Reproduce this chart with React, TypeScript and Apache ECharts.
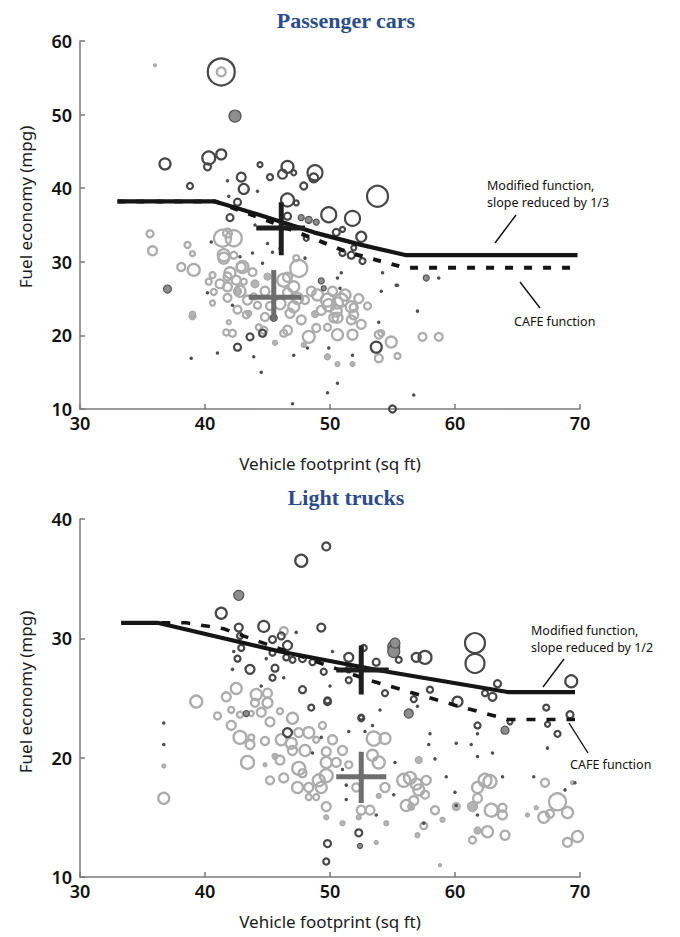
import React, { useEffect, useRef } from "react";
import * as echarts from "echarts";

// ---------- Passenger cars (top) ----------
const carsLightRings = [
  [41.3, 55.8, 10], [35.6, 33.8, 8], [35.8, 31.5, 10], [38.6, 32.3, 7], [39.0, 31.1, 6], [38.1, 29.3, 9], [39.1, 28.9, 13],
  [41.4, 33.2, 18], [42.3, 33.2, 17], [41.8, 33.9, 10], [41.5, 30.5, 12], [42.3, 30.9, 8], [40.6, 28.2, 7], [40.3, 27.3, 7],
  [41.8, 28.0, 9], [41.8, 26.6, 10], [41.8, 25.1, 9], [42.5, 27.5, 10], [42.9, 29.3, 10], [43.1, 27.3, 7], [40.7, 25.9, 7],
  [40.6, 24.4, 6], [41.9, 21.8, 5], [42.2, 20.3, 8], [41.7, 20.4, 7], [44.2, 24.1, 8], [43.9, 25.3, 7], [44.7, 20.7, 8],
  [44.3, 21.1, 7], [46.3, 27.5, 14], [47.1, 26.6, 12], [46.6, 25.8, 10], [47.5, 29.1, 18], [47.3, 30.5, 7], [46.6, 27.9, 10],
  [47.1, 23.9, 12], [47.7, 22.1, 10], [46.6, 20.7, 10], [46.3, 20.3, 8], [48.3, 19.8, 13], [49.3, 23.4, 10], [49.9, 24.1, 13],
  [50.9, 24.8, 14], [50.3, 22.4, 10], [49.8, 21.1, 8], [49.8, 24.8, 14], [50.6, 24.4, 12], [51.7, 23.9, 12], [51.7, 22.1, 10],
  [50.6, 22.4, 11], [50.6, 20.1, 12], [51.8, 20.1, 11], [51.9, 22.8, 10], [51.9, 23.8, 9], [53.9, 20.1, 9], [54.9, 19.1, 12],
  [53.9, 16.9, 9], [57.4, 19.8, 9], [58.7, 19.8, 9], [55.4, 17.2, 7], [54.1, 20.3, 7], [43.0, 29.3, 13], [41.5, 30.9, 13],
  [44.8, 26.0, 10], [45.2, 24.0, 9], [48.5, 26.0, 10], [48.0, 24.8, 9], [52.5, 21.5, 10], [53.0, 24.0, 8], [43.3, 22.8, 8],
  [48.9, 21.0, 9], [42.0, 28.5, 12], [42.8, 26.0, 12], [43.4, 24.8, 10], [41.2, 27.0, 10], [42.6, 23.5, 9], [43.8, 28.6, 9],
  [49.0, 25.5, 12], [50.2, 26.0, 10], [51.2, 25.5, 12], [52.3, 25.0, 10], [50.5, 23.3, 12], [46.0, 24.3, 12], [47.4, 25.0, 12],
  [46.8, 23.0, 10], [44.8, 22.5, 9],
];
const carsLightFill = [
  [39.0, 22.6, 7], [39.0, 22.9, 6], [49.8, 17.1, 6], [50.6, 16.1, 5], [51.8, 16.1, 5], [45.6, 19.0, 5], [43.5, 23.0, 6],
  [47.9, 18.7, 5], [44.0, 27.0, 8], [42.6, 26.0, 8], [45.0, 28.0, 7], [48.8, 22.9, 7], [36.0, 56.7, 3],
];
const carsDarkRings = [
  [41.3, 55.8, 28], [36.8, 43.3, 12], [40.3, 44.1, 14], [41.3, 44.6, 11], [40.2, 42.9, 8], [38.8, 40.3, 7], [42.9, 41.5, 10],
  [43.1, 39.9, 11], [42.6, 38.1, 8], [44.4, 43.2, 6], [45.2, 41.5, 7], [46.2, 41.9, 10], [46.6, 42.9, 13], [47.1, 42.1, 6],
  [48.8, 42.1, 16], [48.7, 41.4, 10], [47.9, 40.3, 8], [53.8, 38.9, 22], [46.6, 38.4, 14], [49.9, 36.4, 16], [51.8, 35.9, 16],
  [42.0, 36.0, 8], [46.6, 36.2, 8], [47.3, 38.0, 6], [50.5, 34.0, 8], [51.0, 34.4, 6], [52.5, 33.4, 11], [51.0, 31.2, 7],
  [51.7, 30.9, 8], [52.6, 30.1, 7], [51.9, 31.9, 6], [48.1, 33.2, 6], [53.7, 18.4, 12], [55.0, 10.0, 8], [43.6, 19.8, 8],
  [44.6, 20.3, 8], [42.6, 18.4, 8],
];
const carsMedFill = [
  [42.4, 49.8, 12], [47.7, 36.0, 6], [48.3, 35.7, 7], [48.9, 35.4, 6], [37.0, 26.3, 8], [45.5, 22.4, 7], [57.7, 27.8, 6],
  [49.3, 27.4, 6], [49.5, 26.4, 5],
];
const carsDarkDots = [
  [41.8, 41.0], [44.2, 39.6], [41.9, 38.9], [43.8, 31.2], [42.8, 30.7], [44.6, 29.8], [45.4, 31.3], [40.5, 32.7], [40.2, 25.8],
  [42.2, 24.1], [50.6, 27.8], [50.8, 26.4], [54.1, 26.0], [55.3, 26.8], [43.9, 17.1], [49.9, 18.3], [38.9, 16.9], [41.0, 17.6],
  [44.5, 15.0], [47.0, 10.7], [49.8, 12.2], [50.6, 13.5], [47.1, 17.3], [48.2, 18.3], [51.8, 17.3], [53.9, 21.8], [56.7, 11.9],
  [54.2, 28.5], [50.9, 28.5], [58.7, 27.8], [55.4, 26.8], [57.0, 23.3], [45.0, 32.5], [46.0, 31.8], [48.0, 30.5], [44.0, 35.0],
];
const carsModified = [[33, 38.2], [40.8, 38.2], [44.5, 36.3], [48.7, 34.0], [52.5, 32.3], [56.1, 30.9], [69.8, 30.9]];
const carsCafe = [[33, 38.2], [40.8, 38.2], [45, 35.6], [48, 33.6], [51.4, 31.3], [56, 29.2], [69.8, 29.2]];
const carsDarkCrossH = [[44.1, 34.6], [48.0, 34.6]];
const carsDarkCrossV = [[46.1, 38.1], [46.1, 30.9]];
const carsGrayCrossH = [[43.5, 25.2], [47.7, 25.2]];
const carsGrayCrossV = [[45.5, 28.9], [45.5, 22.1]];

// ---------- Light trucks (bottom) ----------
const trucksDarkRings = [
  [47.7, 36.5, 13], [49.7, 37.7, 9], [41.3, 32.1, 12], [44.7, 31.0, 12], [49.3, 30.9, 9], [42.7, 30.9, 9], [42.8, 30.2, 7],
  [45.4, 29.9, 8], [46.1, 30.2, 8], [46.6, 29.4, 10], [42.9, 29.2, 7], [42.6, 28.3, 7], [45.4, 28.8, 7], [46.5, 28.4, 7],
  [47.0, 28.2, 7], [47.8, 28.3, 8], [43.6, 27.4, 10], [45.6, 27.5, 8], [45.4, 26.7, 7], [48.6, 28.0, 7], [49.5, 27.2, 7],
  [51.5, 28.4, 10], [51.5, 27.4, 7], [51.5, 26.5, 7], [52.7, 29.2, 7], [53.7, 28.0, 8], [55.5, 28.2, 7], [56.9, 28.4, 10],
  [47.8, 25.7, 8], [54.4, 25.4, 7], [48.5, 24.2, 7], [49.8, 24.8, 7], [52.5, 23.4, 6], [56.7, 24.9, 7], [58.0, 25.7, 7],
  [57.6, 28.4, 14], [61.6, 29.6, 21], [61.6, 27.9, 20], [60.2, 24.7, 11], [62.4, 25.4, 7], [63.0, 25.1, 9], [63.4, 26.2, 8],
  [61.8, 22.7, 7], [64.4, 23.0, 6], [67.3, 24.2, 7], [67.4, 22.8, 6], [68.2, 22.0, 7], [69.2, 23.6, 8], [69.3, 26.4, 13],
  [46.6, 22.1, 10], [49.8, 12.8, 8], [49.7, 11.3, 7], [52.3, 13.7, 8], [52.5, 23.3, 7], [49.8, 24.7, 8],
];
const trucksMedFill = [
  [42.7, 33.6, 10], [55.1, 29.3, 12], [55.1, 28.9, 12], [55.2, 29.6, 10], [56.3, 23.7, 9], [64.0, 22.3, 8], [43.3, 23.7, 6],
  [52.4, 12.6, 5],
];
const trucksLightRings = [
  [46.3, 30.6, 9], [39.3, 24.7, 13], [36.7, 16.6, 12], [41.7, 25.1, 10], [42.5, 25.8, 12], [44.1, 25.3, 12], [45.0, 24.6, 11],
  [45.0, 25.4, 10], [42.1, 24.0, 7], [42.8, 23.6, 7], [43.7, 23.7, 6], [42.1, 22.7, 10], [42.8, 21.7, 14], [43.7, 21.7, 7],
  [43.6, 21.1, 10], [43.4, 19.6, 14], [44.8, 21.4, 9], [45.2, 23.0, 10], [46.0, 23.9, 7], [46.1, 21.5, 12], [46.9, 21.2, 12],
  [47.0, 20.6, 10], [47.5, 22.1, 10], [48.3, 22.1, 12], [48.9, 21.5, 7], [49.4, 22.7, 8], [47.5, 19.1, 14], [46.3, 18.3, 10],
  [45.2, 18.1, 9], [47.4, 17.5, 12], [48.3, 16.7, 7], [48.9, 16.7, 7], [48.3, 17.5, 10], [49.1, 18.1, 13], [49.7, 18.5, 14],
  [49.3, 17.5, 12], [49.7, 19.6, 12], [49.7, 20.5, 10], [50.5, 19.6, 10], [51.0, 20.6, 10], [51.5, 19.4, 8], [49.7, 15.9, 10],
  [52.1, 17.5, 9], [52.5, 15.6, 10], [53.2, 15.6, 10], [53.5, 21.6, 15], [54.4, 21.6, 12], [53.9, 19.6, 13], [53.4, 20.2, 12],
  [54.4, 17.5, 10], [55.9, 18.1, 14], [56.4, 18.3, 13], [56.1, 16.0, 12], [56.7, 16.4, 10], [56.9, 17.8, 12], [57.1, 17.3, 12],
  [57.7, 18.1, 10], [57.6, 16.9, 9], [58.4, 15.6, 9], [62.4, 18.1, 14], [62.8, 18.0, 14], [61.8, 17.5, 12], [61.8, 16.6, 10],
  [62.9, 15.6, 14], [63.8, 15.2, 10], [63.8, 15.8, 9], [64.0, 13.5, 10], [62.6, 13.8, 12], [61.4, 13.1, 8], [67.2, 17.9, 9],
  [68.2, 16.3, 18], [67.1, 15.0, 12], [67.6, 15.3, 9], [69.0, 15.4, 12], [69.0, 12.9, 10], [69.8, 13.4, 12], [57.5, 14.3, 8],
  [44.5, 23.8, 10], [47.0, 23.3, 12], [48.0, 20.6, 12], [46.0, 19.8, 10], [50.2, 21.5, 10], [47.8, 18.7, 9], [44.0, 24.6, 9],
  [41.0, 23.5, 8],
];
const trucksLightFill = [
  [36.7, 19.3, 4], [45.6, 20.1, 6], [44.8, 19.4, 4], [49.7, 15.0, 5], [51.0, 14.5, 5], [52.3, 15.0, 5], [53.7, 12.9, 4],
  [54.5, 14.5, 5], [53.9, 16.8, 5], [57.1, 19.8, 7], [56.5, 15.9, 7], [60.1, 15.9, 8], [61.4, 15.9, 10], [59.0, 14.8, 5],
  [58.8, 11.0, 3], [61.8, 13.9, 7], [69.4, 17.9, 4], [66.5, 15.8, 4], [65.8, 15.2, 4], [57.0, 13.5, 5],
];
const trucksDarkDots = [
  [36.7, 22.9], [36.7, 21.1], [51.5, 22.2], [52.8, 22.2], [53.4, 22.7], [51.3, 16.5], [53.7, 15.2], [51.3, 17.7], [55.1, 16.9],
  [55.2, 19.6], [49.3, 21.7], [48.6, 20.4], [47.3, 30.5], [44.9, 28.3], [42.2, 27.4], [50.2, 28.9], [46.3, 26.7], [42.3, 28.9],
  [44.5, 26.0], [61.8, 22.0], [60.1, 21.2], [61.3, 21.1], [61.8, 20.1], [63.0, 20.4], [67.4, 20.8], [58.4, 19.9], [57.9, 21.1],
  [59.3, 18.4], [60.0, 17.1], [60.1, 16.0], [57.5, 14.5], [61.8, 15.2], [63.8, 18.4], [68.8, 17.3], [69.6, 17.9], [66.3, 18.4],
  [58.0, 22.0], [57.0, 24.3], [50.0, 26.0], [54.0, 24.0], [51.0, 19.0],
];
const trucksModified = [[33.3, 31.3], [36.2, 31.3], [46, 28.9], [54, 27.3], [64.2, 25.5], [69.6, 25.5]];
const trucksCafe = [[33.3, 31.3], [38.5, 31.3], [41.5, 30.8], [44.4, 29.7], [53.1, 26.5], [60, 24.4], [64.2, 23.2], [69.6, 23.2]];
const trucksDarkCrossH = [[50.5, 27.35], [54.7, 27.35]];
const trucksDarkCrossV = [[52.5, 29.4], [52.5, 25.3]];
const trucksGrayCrossH = [[50.5, 18.4], [54.5, 18.4]];
const trucksGrayCrossV = [[52.5, 20.5], [52.5, 16.2]];

const X_MIN = 30, X_MAX = 70, X_STEP = 10;
const CARS_Y = [10, 60];
const TRUCKS_Y = [10, 40];

const TITLE_CARS = "Passenger cars";
const TITLE_TRUCKS = "Light trucks";
const X_NAME = "Vehicle footprint (sq ft)";
const Y_NAME = "Fuel economy (mpg)";

const SANS = "'Noto Sans', 'DejaVu Sans', sans-serif";

function rings(data: number[][], idx: number, color: string, width = 2.2, z = 2) {
  return {
    type: "scatter", xAxisIndex: idx, yAxisIndex: idx, data, symbol: "circle", silent: true, z,
    symbolSize: (v: number[]) => v[2] - 1,
    itemStyle: { color: "rgba(255,255,255,0)", borderColor: color, borderWidth: width, opacity: 1 },
  };
}
function fills(data: number[][], idx: number, color: string, border: string, z = 2) {
  return {
    type: "scatter", xAxisIndex: idx, yAxisIndex: idx, data, symbol: "circle", silent: true, z,
    symbolSize: (v: number[]) => v[2],
    itemStyle: { color, borderColor: border, borderWidth: 1.2, opacity: 1 },
  };
}
function dots(data: number[][], idx: number, color: string, size: number) {
  return {
    type: "scatter", xAxisIndex: idx, yAxisIndex: idx, data, symbol: "circle", symbolSize: size, silent: true, z: 2,
    itemStyle: { color, opacity: 1 },
  };
}
function line(data: number[][], idx: number, color: string, width: number, dash?: number[], z = 3) {
  return {
    type: "line", xAxisIndex: idx, yAxisIndex: idx, data, symbol: "none", silent: true, z,
    lineStyle: { color, width, type: dash ? dash : "solid", cap: "butt" },
  };
}

function axisX(idx: number) {
  return {
    type: "value", gridIndex: idx, min: X_MIN, max: X_MAX, interval: X_STEP,
    axisLine: { show: true, lineStyle: { color: "#7a7a7a", width: 1.5 } },
    axisTick: { show: true, inside: true, length: 5, lineStyle: { color: "#7a7a7a", width: 1.5 } },
    axisLabel: { color: "#111", fontSize: 18, fontWeight: 600, fontFamily: SANS, margin: 5 },
    splitLine: { show: false },
  };
}
function axisY(idx: number, range: number[]) {
  return {
    type: "value", gridIndex: idx, min: range[0], max: range[1], interval: 10,
    axisLine: { show: true, lineStyle: { color: "#7a7a7a", width: 1.5 } },
    axisTick: { show: true, inside: true, length: 5, lineStyle: { color: "#7a7a7a", width: 1.5 } },
    axisLabel: { color: "#111", fontSize: 18, fontWeight: 600, fontFamily: SANS, margin: 8 },
    splitLine: { show: false },
  };
}

function txt(text: string, x: number, y: number, size: number, opts: any = {}) {
  return {
    type: "text", x, y, rotation: opts.rotation || 0, silent: true,
    style: {
      text, fill: opts.fill || "#111", font: `${opts.weight || "normal"} ${size}px ${opts.family || SANS}`,
      textAlign: opts.align || "left", textVerticalAlign: "middle",
    },
  };
}
function seg(x1: number, y1: number, x2: number, y2: number) {
  return { type: "line", silent: true, shape: { x1, y1, x2, y2 }, style: { stroke: "#111", lineWidth: 1.4 } };
}

export default function App() {
  const ref = useRef<HTMLDivElement>(null);
  useEffect(() => {
    if (!ref.current) return;
    const chart = echarts.init(ref.current, null, { renderer: "svg" });
    const serif = "'Liberation Serif', 'Times New Roman', serif";
    chart.setOption({
      animation: false,
      backgroundColor: "#ffffff",
      grid: [
        { left: 80, top: 41, width: 500, height: 368 },
        { left: 80, top: 519, width: 500, height: 358 },
      ],
      xAxis: [axisX(0), axisX(1)],
      yAxis: [axisY(0, CARS_Y), axisY(1, TRUCKS_Y)],
      series: [
        fills(carsLightFill, 0, "#b4b4b4", "#a8a8a8"),
        rings(carsLightRings, 0, "#acacac", 2.3),
        dots(carsDarkDots, 0, "#505050", 3.5),
        fills(carsMedFill, 0, "#8e8e8e", "#555555"),
        rings(carsDarkRings, 0, "#474747", 2.2),
        line(carsCafe, 0, "#151515", 4, [8, 11]),
        line(carsModified, 0, "#151515", 4.2),
        line(carsGrayCrossH, 0, "#6e6e6e", 5, undefined, 4),
        line(carsGrayCrossV, 0, "#6e6e6e", 5, undefined, 4),
        line(carsDarkCrossH, 0, "#1e1e1e", 5, undefined, 5),
        line(carsDarkCrossV, 0, "#1e1e1e", 5, undefined, 5),

        fills(trucksLightFill, 1, "#b4b4b4", "#a8a8a8"),
        rings(trucksLightRings, 1, "#acacac", 2.3),
        dots(trucksDarkDots, 1, "#505050", 3.5),
        fills(trucksMedFill, 1, "#8e8e8e", "#555555"),
        rings(trucksDarkRings, 1, "#474747", 2.2),
        line(trucksCafe, 1, "#151515", 3.6, [9, 11]),
        line(trucksModified, 1, "#151515", 4.2),
        line(trucksGrayCrossH, 1, "#6e6e6e", 5, undefined, 4),
        line(trucksGrayCrossV, 1, "#6e6e6e", 5, undefined, 4),
        line(trucksDarkCrossH, 1, "#1e1e1e", 5, undefined, 5),
        line(trucksDarkCrossV, 1, "#1e1e1e", 5, undefined, 5),
      ],
      graphic: [
        txt(TITLE_CARS, 346, 20, 22, { align: "center", weight: "bold", family: serif, fill: "#2b4c8c" }),
        txt(TITLE_TRUCKS, 346, 497, 22, { align: "center", weight: "bold", family: serif, fill: "#2b4c8c" }),
        txt(Y_NAME, 25, 207, 17, { align: "center", rotation: Math.PI / 2, fill: "#1a1a1a" }),
        txt(Y_NAME, 25, 692, 17, { align: "center", rotation: Math.PI / 2, fill: "#1a1a1a" }),
        txt(X_NAME, 330, 463, 17, { align: "center", fill: "#1a1a1a" }),
        txt(X_NAME, 330, 921, 17, { align: "center", fill: "#1a1a1a" }),
        txt("Modified function,", 487, 185, 12.5),
        txt("slope reduced by 1/3", 487, 202, 12.5),
        seg(516, 215, 495, 243),
        txt("CAFE function", 514, 321, 12.5),
        seg(520, 282, 540, 308),
        txt("Modified function,", 531, 630, 12.5),
        txt("slope reduced by 1/2", 531, 647, 12.5),
        seg(564, 659, 543, 687),
        txt("CAFE function", 570, 764, 12.5),
        seg(569, 723, 588, 753),
      ],
    });
    return () => chart.dispose();
  }, []);
  return (
    <div
      ref={ref}
      style={{ position: "absolute", left: 0, top: 0, width: 680, height: 937, background: "#fff" }}
    />
  );
}
